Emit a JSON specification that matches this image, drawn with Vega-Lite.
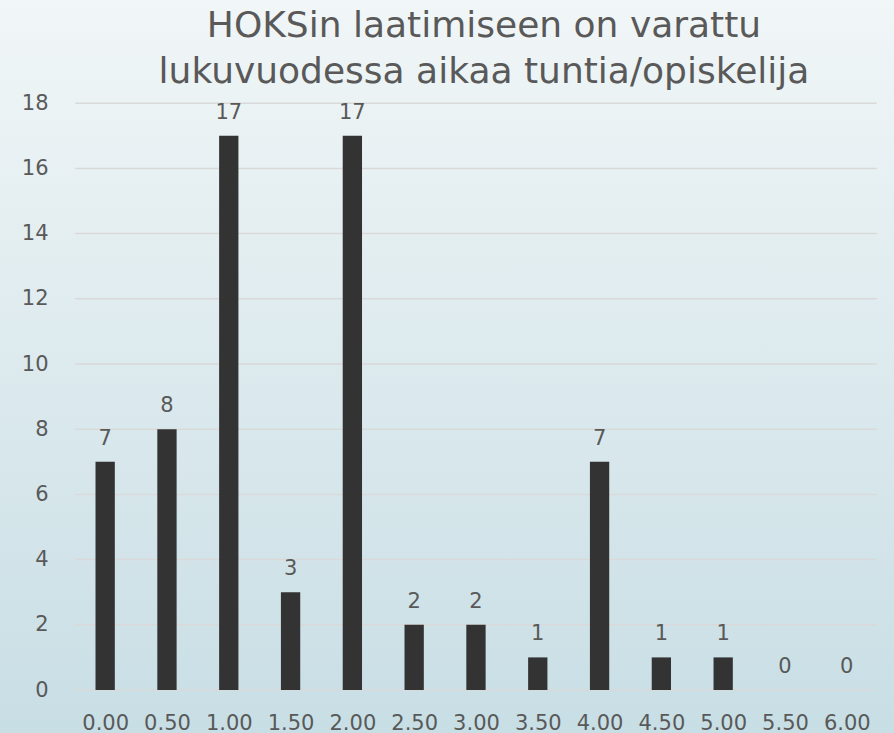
{
  "$schema": "https://vega.github.io/schema/vega-lite/v6.json",
  "width": 894,
  "height": 733,
  "autosize": {"type": "none"},
  "padding": 0,
  "background": "#dde9ee",
  "view": {
    "stroke": null,
    "fill": {
      "gradient": "linear",
      "x1": 0, "y1": 0, "x2": 0, "y2": 1,
      "stops": [
        {"offset": 0, "color": "#f1f6f7"},
        {"offset": 1, "color": "#c8dee5"}
      ]
    }
  },
  "title": {
    "text": ["HOKSin laatimiseen on varattu", "lukuvuodessa aikaa tuntia/opiskelija"],
    "anchor": "middle",
    "frame": "group",
    "offset": -119,
    "baseline": "alphabetic",
    "font": "DejaVu Sans",
    "fontSize": 36,
    "fontWeight": "normal",
    "color": "#595959",
    "lineHeight": 46,
    "dx": 37
  },
  "config": {
    "font": "DejaVu Sans",
    "axis": {"title": null}
  },
  "datasets": {
    "bars": [
      {"t": 0.0, "n": 7},
      {"t": 0.5, "n": 8},
      {"t": 1.0, "n": 17},
      {"t": 1.5, "n": 3},
      {"t": 2.0, "n": 17},
      {"t": 2.5, "n": 2},
      {"t": 3.0, "n": 2},
      {"t": 3.5, "n": 1},
      {"t": 4.0, "n": 7},
      {"t": 4.5, "n": 1},
      {"t": 5.0, "n": 1},
      {"t": 5.5, "n": 0},
      {"t": 6.0, "n": 0}
    ],
    "grid": [
      {"v": 0}, {"v": 2}, {"v": 4}, {"v": 6}, {"v": 8},
      {"v": 10}, {"v": 12}, {"v": 14}, {"v": 16}, {"v": 18}
    ]
  },
  "layer": [
    {
      "data": {"name": "grid"},
      "mark": {"type": "rule", "color": "#d9d9d9", "strokeWidth": 1.5},
      "encoding": {
        "y": {
          "field": "v",
          "type": "quantitative",
          "title": null,
          "scale": {"domain": [-1.319, 21.166], "nice": false, "zero": false},
          "axis": {
            "orient": "left",
            "values": [0, 2, 4, 6, 8, 10, 12, 14, 16, 18],
            "format": "d",
            "offset": -56,
            "grid": false,
            "domain": false,
            "ticks": false,
            "tickSize": 0,
            "labelPadding": 8,
            "labelFont": "DejaVu Sans",
            "labelFontSize": 21,
            "labelColor": "#595959",
            "labelFlush": false,
            "labelOverlap": false
          }
        },
        "x": {"datum": -0.2425, "type": "quantitative"},
        "x2": {"datum": 6.2425}
      }
    },
    {
      "data": {"name": "bars"},
      "mark": {"type": "bar", "width": 19.3, "color": "#333333"},
      "encoding": {
        "x": {
          "field": "t",
          "type": "quantitative",
          "title": null,
          "scale": {"domain": [-0.8104, 6.3416], "nice": false, "zero": false},
          "axis": {
            "orient": "bottom",
            "values": [0, 0.5, 1, 1.5, 2, 2.5, 3, 3.5, 4, 4.5, 5, 5.5, 6],
            "format": ".2f",
            "offset": -20,
            "grid": false,
            "domain": false,
            "ticks": false,
            "tickSize": 0,
            "labelPadding": 16,
            "labelBaseline": "alphabetic",
            "labelFont": "DejaVu Sans",
            "labelFontSize": 21,
            "labelColor": "#595959",
            "labelFlush": false,
            "labelOverlap": false
          }
        },
        "y": {"field": "n", "type": "quantitative", "title": null}
      }
    },
    {
      "data": {"name": "bars"},
      "mark": {
        "type": "text",
        "baseline": "alphabetic",
        "dy": -17,
        "font": "DejaVu Sans",
        "fontSize": 21,
        "color": "#595959"
      },
      "encoding": {
        "x": {"field": "t", "type": "quantitative", "title": null},
        "y": {"field": "n", "type": "quantitative", "title": null},
        "text": {"field": "n", "type": "quantitative", "format": "d"}
      }
    }
  ]
}
